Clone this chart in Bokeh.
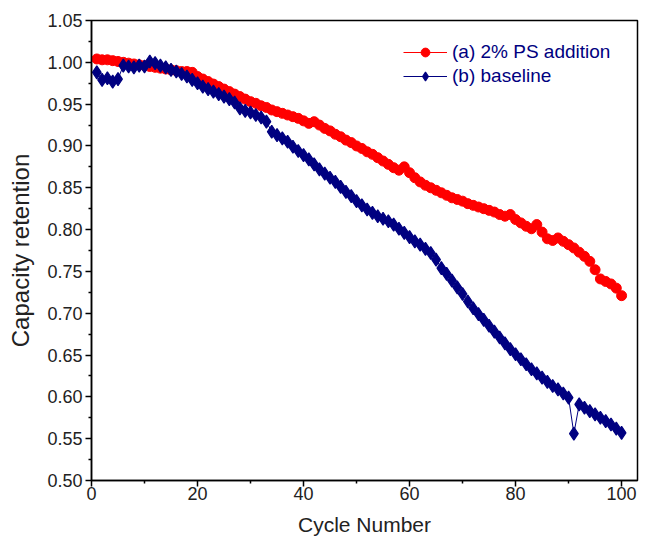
from bokeh.plotting import figure
from bokeh.models import (ColumnDataSource, FixedTicker, PrintfTickFormatter,
                          Legend, LegendItem, Range1d)
from bokeh.embed import file_html
from bokeh.resources import INLINE

cycles = list(range(1, 101))

ps_addition = [
    1.004, 1.003, 1.003, 1.002, 1.001, 1.000, 0.999, 0.998, 0.997, 0.996,
    0.995, 0.994, 0.993, 0.992, 0.991, 0.990, 0.989, 0.989, 0.988, 0.983,
    0.980, 0.977, 0.974, 0.971, 0.968, 0.965, 0.962, 0.959, 0.956, 0.953,
    0.951, 0.948, 0.946, 0.943, 0.941, 0.939, 0.937, 0.935, 0.933, 0.930,
    0.927, 0.929, 0.925, 0.921, 0.918, 0.914, 0.911, 0.907, 0.904, 0.900,
    0.897, 0.893, 0.890, 0.886, 0.882, 0.878, 0.874, 0.871, 0.875, 0.868,
    0.862, 0.857, 0.853, 0.850, 0.847, 0.844, 0.841, 0.838, 0.836, 0.834,
    0.831, 0.829, 0.827, 0.825, 0.823, 0.821, 0.818, 0.816, 0.818, 0.812,
    0.808, 0.804, 0.801, 0.806, 0.797, 0.789, 0.787, 0.790, 0.786, 0.782,
    0.778, 0.773, 0.768, 0.762, 0.752, 0.741, 0.738, 0.735, 0.730, 0.721,
]

baseline = [
    0.988, 0.979, 0.981, 0.977, 0.980, 0.996, 0.995, 0.994, 0.996, 0.995,
    1.001, 0.999, 0.996, 0.994, 0.991, 0.989, 0.986, 0.983, 0.979, 0.975,
    0.971, 0.968, 0.965, 0.962, 0.959, 0.956, 0.952, 0.945, 0.942, 0.940,
    0.937, 0.934, 0.929, 0.917, 0.913, 0.909, 0.905, 0.899, 0.894, 0.889,
    0.884, 0.878, 0.872, 0.867, 0.862, 0.857, 0.851, 0.845, 0.840, 0.834,
    0.829, 0.824, 0.820, 0.816, 0.813, 0.810, 0.806, 0.801, 0.796, 0.791,
    0.786, 0.782, 0.777, 0.772, 0.764, 0.754, 0.747, 0.739, 0.731, 0.723,
    0.714, 0.706, 0.699, 0.692, 0.685, 0.678, 0.671, 0.664, 0.657, 0.651,
    0.645, 0.639, 0.633, 0.628, 0.623, 0.618, 0.613, 0.609, 0.604, 0.599,
    0.556, 0.591, 0.587, 0.583, 0.579, 0.575, 0.571, 0.567, 0.562, 0.557,
]

y_ticks = [0.50, 0.55, 0.60, 0.65, 0.70, 0.75, 0.80, 0.85, 0.90, 0.95, 1.00, 1.05]
y_minor = [0.525, 0.575, 0.625, 0.675, 0.725, 0.775, 0.825, 0.875, 0.925, 0.975, 1.025]
x_ticks = [0, 20, 40, 60, 80, 100]
x_minor = [10, 30, 50, 70, 90]

series_labels = ["(a) 2% PS addition", "(b) baseline"]

FONT = "Liberation Sans"
RED = "#ff0000"
NAVY = "#000080"

p = figure(width=643, height=540, output_backend="svg", toolbar_location=None,
           x_range=Range1d(0, 103), y_range=Range1d(0.5, 1.05),
           min_border_left=91, min_border_right=6, min_border_top=20,
           min_border_bottom=60)
p.xgrid.visible = False
p.ygrid.visible = False
p.outline_line_color = "black"
p.outline_line_width = 1.5
p.background_fill_color = "white"
p.border_fill_color = "white"

src = ColumnDataSource(dict(x=cycles, a=ps_addition, b=baseline))

la = p.line("x", "a", source=src, line_color=RED, line_width=1)
ma = p.scatter("x", "a", source=src, marker="circle", size=10,
               fill_color=RED, line_color=RED)
lb = p.line("x", "b", source=src, line_color=NAVY, line_width=1)
mb = p.scatter("x", "b", source=src, marker="diamond", size=13,
               fill_color=NAVY, line_color=NAVY, line_width=1.2)

legend = Legend(items=[LegendItem(label=series_labels[0], renderers=[la, ma]),
                       LegendItem(label=series_labels[1], renderers=[lb, mb])],
                location=(312, 393))
legend.border_line_color = None
legend.background_fill_alpha = 0
legend.padding = 0
legend.margin = 0
legend.spacing = 2
legend.glyph_width = 44
legend.glyph_height = 22
legend.label_height = 22
legend.label_standoff = 5
legend.label_text_font = FONT
legend.label_text_font_size = "19px"
legend.label_text_color = NAVY
p.add_layout(legend, "center")

for ax in (p.xaxis[0], p.yaxis[0]):
    ax.axis_line_width = 1.5
    ax.axis_line_color = "black"
    ax.major_tick_line_width = 1.5
    ax.minor_tick_line_width = 1.5
    ax.major_tick_in = 0
    ax.major_tick_out = 6
    ax.minor_tick_in = 0
    ax.minor_tick_out = 3
    ax.major_label_text_font = FONT
    ax.major_label_text_font_size = "18px"
    ax.major_label_text_color = "#222222"
    ax.axis_label_text_font = FONT
    ax.axis_label_text_font_style = "normal"
    ax.axis_label_text_color = "#222222"

p.yaxis[0].axis_label_text_font_size = "24px"
p.xaxis[0].axis_label_text_font_size = "21px"

p.yaxis[0].ticker = FixedTicker(ticks=y_ticks, minor_ticks=y_minor)
p.yaxis[0].formatter = PrintfTickFormatter(format="%.2f")
p.yaxis[0].axis_label = "Capacity retention"
p.yaxis[0].major_label_standoff = 3
p.yaxis[0].axis_label_standoff = 10

p.xaxis[0].ticker = FixedTicker(ticks=x_ticks, minor_ticks=x_minor)
p.xaxis[0].axis_label = "Cycle Number"
p.xaxis[0].major_label_standoff = 0
p.xaxis[0].axis_label_standoff = 10

open("out.html", "w").write(file_html(p, INLINE))
